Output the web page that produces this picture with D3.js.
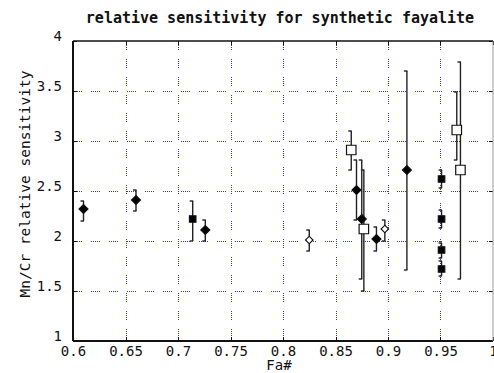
<!DOCTYPE html>
<html lang="en">
<head>
<meta charset="UTF-8">
<title>relative sensitivity</title>
<script src="https://d3js.org/d3.v7.min.js"></script>
<style>
  body { margin: 0; background: #fff; }
  text { font-family: "DejaVu Sans Mono", monospace; fill: #111; }
</style>
</head>
<body>
<div id="chart"></div>
<script>
// values
const fa    = [0.610, 0.660, 0.714, 0.726, 0.825, 0.865, 0.870, 0.875, 0.877, 0.889, 0.897, 0.918, 0.951, 0.951, 0.951, 0.951, 0.9655, 0.969];
const ratio = [2.32, 2.41, 2.22, 2.11, 2.01, 2.91, 2.51, 2.22, 2.12, 2.02, 2.12, 2.71, 2.62, 2.22, 1.91, 1.72, 3.11, 2.71];
const errLo = [2.20, 2.30, 2.00, 2.00, 1.90, 2.71, 2.21, 1.62, 1.50, 1.90, 2.00, 1.71, 2.53, 2.13, 1.83, 1.65, 2.81, 1.62];
const errHi = [2.40, 2.51, 2.40, 2.21, 2.11, 3.10, 2.81, 2.81, 2.71, 2.14, 2.21, 3.70, 2.71, 2.31, 1.98, 1.80, 3.49, 3.79];
const kind  = ["fd", "fd", "fs", "fd", "od", "os", "fd", "fd", "os", "fd", "od", "fd", "fs", "fs", "fs", "fs", "os", "os"];
const xTicks = [0.6, 0.65, 0.7, 0.75, 0.8, 0.85, 0.9, 0.95, 1];
const yTicks = [1, 1.5, 2, 2.5, 3, 3.5, 4];

const W = 494, H = 373;
const margin = { top: 41, right: 1, bottom: 32, left: 73 };
const width = W - margin.left - margin.right;
const height = H - margin.top - margin.bottom;

const x = d3.scaleLinear().domain([0.6, 1]).range([0, width]);
const y = d3.scaleLinear().domain([1, 4]).range([height, 0]);

const svg = d3.select("#chart").append("svg")
    .attr("width", W).attr("height", H);

svg.append("text")
    .attr("x", margin.left + width / 2 - 3).attr("y", 23)
    .attr("text-anchor", "middle")
    .style("font-size", "15px").style("font-weight", "bold")
    .text("relative sensitivity for synthetic fayalite");

const g = svg.append("g")
    .attr("transform", "translate(" + margin.left + "," + margin.top + ")");

// dotted blue grid, snapped to pixels so the dots stay blue
const dash = "1,1,1,1,1,1,1,1,1,9";
const snap = v => Math.round(v) + 0.5;
const grid = g.append("g").attr("stroke", "#3030f0").attr("stroke-dasharray", dash)
    .attr("shape-rendering", "crispEdges");
grid.selectAll(".gx").data(xTicks.slice(1, -1)).join("line").attr("class", "gx")
    .attr("x1", d => snap(x(d))).attr("x2", d => snap(x(d)))
    .attr("y1", 0).attr("y2", height);
grid.selectAll(".gy").data(yTicks.slice(1, -1)).join("line").attr("class", "gy")
    .attr("y1", d => snap(y(d))).attr("y2", d => snap(y(d)))
    .attr("x1", 0).attr("x2", width);

// axes
const xAxis = g.append("g")
    .attr("transform", "translate(0," + height + ")")
    .call(d3.axisBottom(x).tickValues(xTicks).tickSize(0).tickPadding(5)
        .tickFormat(d => String(d)));
const yAxis = g.append("g")
    .call(d3.axisLeft(y).tickValues(yTicks).tickSize(0).tickPadding(11)
        .tickFormat(d => String(d)));
[xAxis, yAxis].forEach(a => {
    a.select(".domain").remove();
    a.selectAll("text").style("font-size", "14px").style("font-family", "DejaVu Sans Mono, monospace").attr("fill", "#222");
});
yAxis.selectAll("text").attr("dy", "-0.05em");

// inward tick marks
const tk = 4;
const ticks = g.append("g").attr("stroke", "#111").attr("shape-rendering", "crispEdges");
ticks.selectAll(".tt").data(xTicks).join("line").attr("class", "tt")
    .attr("x1", d => snap(x(d))).attr("x2", d => snap(x(d))).attr("y1", 0).attr("y2", tk);
ticks.selectAll(".tb").data(xTicks).join("line").attr("class", "tb")
    .attr("x1", d => snap(x(d))).attr("x2", d => snap(x(d))).attr("y1", height).attr("y2", height - tk);
ticks.selectAll(".tl").data(yTicks).join("line").attr("class", "tl")
    .attr("y1", d => snap(y(d))).attr("y2", d => snap(y(d))).attr("x1", 0).attr("x2", tk);
ticks.selectAll(".tr").data(yTicks).join("line").attr("class", "tr")
    .attr("y1", d => snap(y(d))).attr("y2", d => snap(y(d))).attr("x1", width).attr("x2", width - tk);

// box
g.append("line").attr("x1", 0).attr("x2", width).attr("y1", 0).attr("y2", 0)
    .attr("stroke", "#111").attr("stroke-width", 1.5);
g.append("line").attr("x1", 0).attr("x2", width).attr("y1", height).attr("y2", height)
    .attr("stroke", "#111").attr("stroke-width", 2);
g.append("line").attr("x1", 0).attr("x2", 0).attr("y1", 0).attr("y2", height)
    .attr("stroke", "#111").attr("stroke-width", 2);
g.append("line").attr("x1", width).attr("x2", width).attr("y1", 0).attr("y2", height)
    .attr("stroke", "#999").attr("stroke-width", 1);

// axis labels
svg.append("text")
    .attr("x", margin.left + width / 2 - 4).attr("y", 370)
    .attr("text-anchor", "middle").style("font-size", "14px")
    .text("Fa#");
svg.append("text")
    .attr("transform", "translate(30," + 184 + ") rotate(-90)")
    .attr("text-anchor", "middle").style("font-size", "14.5px")
    .text("Mn/Cr relative sensitivity");

// error bars
const pts = fa.map((v, i) => ({ fa: v, r: ratio[i], lo: errLo[i], hi: errHi[i], k: kind[i] }));
const bars = g.append("g").attr("stroke", "#222").attr("stroke-width", 1.4).attr("fill", "none");
pts.forEach(d => {
    const px = x(d.fa);
    bars.append("line").attr("x1", px).attr("x2", px).attr("y1", y(d.hi)).attr("y2", y(d.lo));
    bars.append("line").attr("x1", px - 3).attr("x2", px + 0.5).attr("y1", y(d.hi)).attr("y2", y(d.hi));
    bars.append("line").attr("x1", px - 3).attr("x2", px + 0.5).attr("y1", y(d.lo)).attr("y2", y(d.lo));
});

// markers
const sym = {
    fd: { s: 40, rot: 45, fill: "#000" },
    fs: { s: 42, rot: 0, fill: "#000" },
    od: { s: 28, rot: 45, fill: "#fff" },
    os: { s: 90, rot: 0, fill: "#fff" }
};
g.append("g").selectAll("path").data(pts).join("path")
    .attr("d", d => d3.symbol().type(d3.symbolSquare).size(sym[d.k].s)())
    .attr("transform", d => "translate(" + x(d.fa) + "," + y(d.r) + ") rotate(" + sym[d.k].rot + ")")
    .attr("fill", d => sym[d.k].fill)
    .attr("stroke", "#111").attr("stroke-width", 1.2);
</script>
</body>
</html>
